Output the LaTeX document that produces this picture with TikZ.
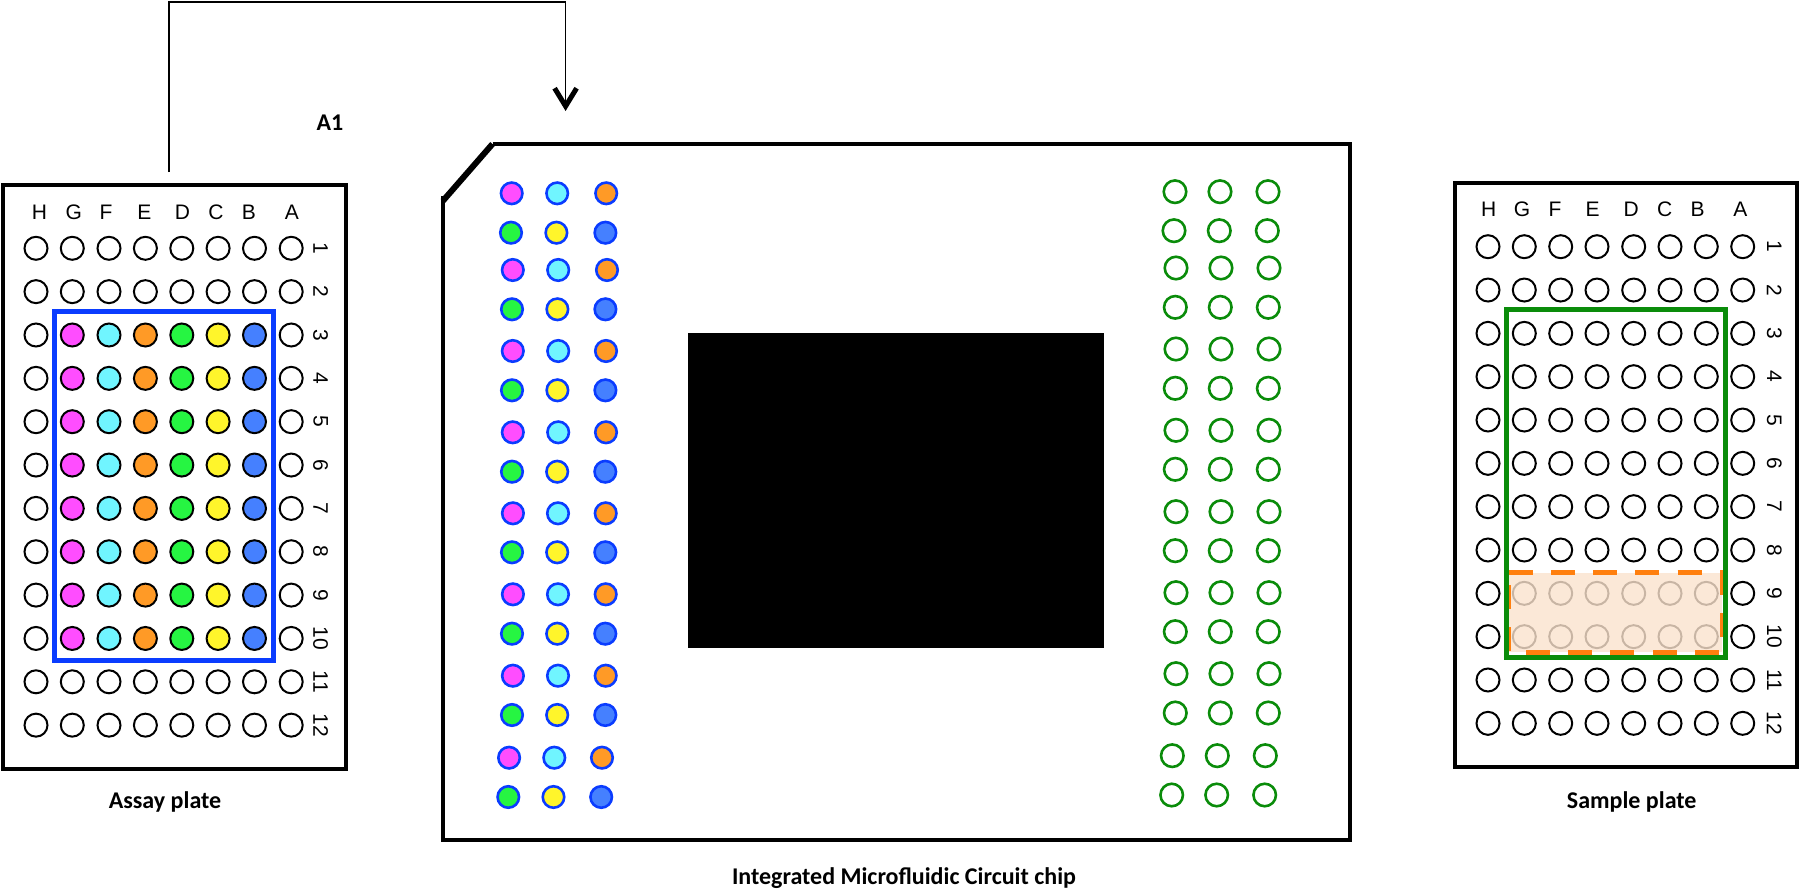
\documentclass[tikz,border=0pt]{standalone}
\usepackage{fontspec}
\setmainfont{Liberation Sans}
\newfontfamily\capfont{Carlito}[BoldFont={Carlito Bold}]
\usetikzlibrary{arrows.meta}
\definecolor{wm}{HTML}{FF4DFF}
\definecolor{wc}{HTML}{70F5FF}
\definecolor{wo}{HTML}{FF9A26}
\definecolor{wg}{HTML}{26F542}
\definecolor{wy}{HTML}{FFF52B}
\definecolor{wb}{HTML}{4580FF}
\definecolor{frameblue}{HTML}{0A3CFF}
\definecolor{framegreen}{HTML}{0A8C0A}
\definecolor{dashorange}{HTML}{FF7F0E}
\definecolor{peach}{HTML}{FBE3CE}
\tikzset{
  plate/.style={draw=black,line width=4pt,fill=white,rectangle,inner sep=0,outer sep=0},
  well/.style={circle,draw=black,line width=2pt,minimum size=23pt,inner sep=0,outer sep=0},
  chipwell/.style={circle,draw=frameblue,line width=2.6pt,minimum size=21.5pt,inner sep=0,outer sep=0},
  greenwell/.style={circle,draw=framegreen,line width=2.6pt,minimum size=22.5pt,inner sep=0,outer sep=0},
  headlabel/.style={font=\fontsize{21}{21}\selectfont,inner sep=0},
  rowlabel/.style={font=\fontsize{21}{21}\selectfont,inner sep=0,rotate=-90},
  capstyle/.style={font=\capfont\bfseries\fontsize{24}{26}\selectfont,inner sep=0},
  flow/.style={draw=black,line width=1.6pt},
}
\begin{document}
\begin{tikzpicture}[x=1pt,y=-1pt]
\useasboundingbox (0,0) rectangle (1800,891);
% ---------- Assay plate
\node[plate,minimum width=342.5pt,minimum height=584pt,anchor=north west] (assay) at (3.2,185) {};
\foreach \n/\x in {H/39.4,G/73.9,F/106,E/144.3,D/182.5,C/216,B/248.8,A/292}
  \node[headlabel] (ah\n) at (\x,212.7) {\n};
\foreach \r in {1,...,12}{
  \pgfmathsetmacro\yy{248.3+43.35*(\r-1)}
  \node[rowlabel] (ar\r) at (320.7,\yy) {\r};
  \foreach \c/\x/\col in {1/36/white,2/72.3/wm,3/109/wc,4/145.4/wo,5/181.8/wg,6/218.1/wy,7/254.5/wb,8/291.2/white}{
    \ifnum\r>2 \ifnum\r<11
      \node[well,fill=\col] (a\c-\r) at (\x,\yy) {};
    \else
      \node[well,fill=white] (a\c-\r) at (\x,\yy) {};
    \fi\else
      \node[well,fill=white] (a\c-\r) at (\x,\yy) {};
    \fi
  }
}
\node[rectangle,draw=frameblue,line width=5pt,minimum width=219pt,minimum height=348.5pt,anchor=north west,inner sep=0,outer sep=0] (assayframe) at (54.3,311.7) {};
\node[capstyle] (assaycap) at (165,801.7) {Assay plate};
\node[capstyle,anchor=center] (a1) at (330,122.7) {A1};
% ---------- Chip
\coordinate (c1) at (492.5,144);
\coordinate (c2) at (1350,144);
\coordinate (c3) at (1350,840);
\coordinate (c4) at (442.8,840);
\coordinate (c5) at (442.8,196);
\coordinate (c6) at (442.8,201);
\draw[black,line width=4pt,line join=miter] (c1) -- (c2) -- (c3) -- (c4) -- (c5);
\draw[black,line width=6pt] (c6) -- (c1);
\node[fill=black,rectangle,minimum width=415.7pt,minimum height=315pt,anchor=north west,inner sep=0,outer sep=0] (core) at (688.3,333.3) {};
\foreach \i/\y/\xa/\xb/\xc/\ca/\cb/\cc in {
 1/193.3/511.7/557.2/606.2/wm/wc/wo,
 2/232.7/511/556.4/605.4/wg/wy/wb,
 3/270/512.8/558.2/607/wm/wc/wo,
 4/309.3/512/557.4/605.4/wg/wy/wb,
 5/351/512.8/558.2/606/wm/wc/wo,
 6/390.3/512/557.4/605.4/wg/wy/wb,
 7/432.3/512.8/558.2/606/wm/wc/wo,
 8/471.7/512/557.2/605.3/wg/wy/wb,
 9/513.3/512.9/558/605.7/wm/wc/wo,
 10/552.3/512/557.2/605.3/wg/wy/wb,
 11/594.3/512.9/558/605.7/wm/wc/wo,
 12/633.7/512/557.2/605.3/wg/wy/wb,
 13/675.7/512.9/558/605.7/wm/wc/wo,
 14/715/512/557.2/605.3/wg/wy/wb,
 15/757.7/509.1/554.3/602/wm/wc/wo,
 16/797/508.3/553.5/601.2/wg/wy/wb}{
  \node[chipwell,fill=\ca] (l1-\i) at (\xa,\y) {};
  \node[chipwell,fill=\cb] (l2-\i) at (\xb,\y) {};
  \node[chipwell,fill=\cc] (l3-\i) at (\xc,\y) {};
}
\foreach \i/\y/\xa/\xb/\xc in {
 1/191.7/1175/1220/1268,
 2/230.7/1174/1219.3/1267.3,
 3/268/1176/1221/1269,
 4/307.3/1175.3/1220.3/1268.3,
 5/349/1176/1221/1269,
 6/388.3/1175.3/1220.3/1268.3,
 7/430.3/1176/1221/1269,
 8/469.3/1175.3/1220.3/1268.3,
 9/511.7/1176/1221/1269,
 10/550.7/1175.3/1220.3/1268.3,
 11/592.7/1176/1221/1269,
 12/631.7/1175.3/1220.3/1268.3,
 13/673.7/1176/1221/1269,
 14/713/1175.3/1220.3/1268.3,
 15/755.7/1172.3/1217.3/1265.3,
 16/795/1171.7/1216.7/1264.7}{
  \node[greenwell] (r1-\i) at (\xa,\y) {};
  \node[greenwell] (r2-\i) at (\xb,\y) {};
  \node[greenwell] (r3-\i) at (\xc,\y) {};
}
\node[capstyle] (chipcap) at (904,878) {Integrated Microfluidic Circuit chip};
% ---------- Sample plate
\node[plate,minimum width=342.5pt,minimum height=583.4pt,anchor=north west] (sample) at (1454.7,183.3) {};
\foreach \n/\x in {H/1488.7,G/1522,F/1555,E/1592.7,D/1631.3,C/1664.7,B/1697.7,A/1740.3}
  \node[headlabel] (sh\n) at (\x,209) {\n};
\foreach \r in {1,...,12}{
  \pgfmathsetmacro\yy{246.7+43.33*(\r-1)}
  \node[rowlabel] (sr\r) at (1774.3,\yy) {\r};
  \foreach \c/\x in {1/1488,2/1524.3,3/1560.7,4/1597,5/1633.7,6/1670,7/1706.3,8/1742.7}
    \node[well,fill=white] (s\c-\r) at (\x,\yy) {};
}
\coordinate (o1) at (1508.5,572.7);
\coordinate (o2) at (1722,572.7);
\coordinate (o3) at (1722,652.3);
\coordinate (o4) at (1508.5,652.3);
\fill[peach,opacity=0.8] (o1) -- (o2) -- (o3) -- (o4) -- cycle;
\draw[dashorange,line width=5pt,dash pattern=on 24pt off 18.3pt] (o1) -- (o2) -- (o3) -- (o4) -- cycle;
\node[rectangle,draw=framegreen,line width=5pt,minimum width=219pt,minimum height=348.4pt,anchor=north west,inner sep=0,outer sep=0] (sampleframe) at (1506,309.3) {};
\node[capstyle] (samplecap) at (1631.7,801.7) {Sample plate};
% ---------- Connector
\coordinate (srcpt) at (169,172);
\coordinate (bend1) at (169,2.3);
\coordinate (bend2) at (565.6,2.3);
\coordinate (dstpt) at (565.6,111);
\draw[flow,-{Straight Barb[length=18pt,width=22pt,line width=5pt]}] (srcpt) -- (bend1) -- (bend2) -- (dstpt);
\end{tikzpicture}
\end{document}
